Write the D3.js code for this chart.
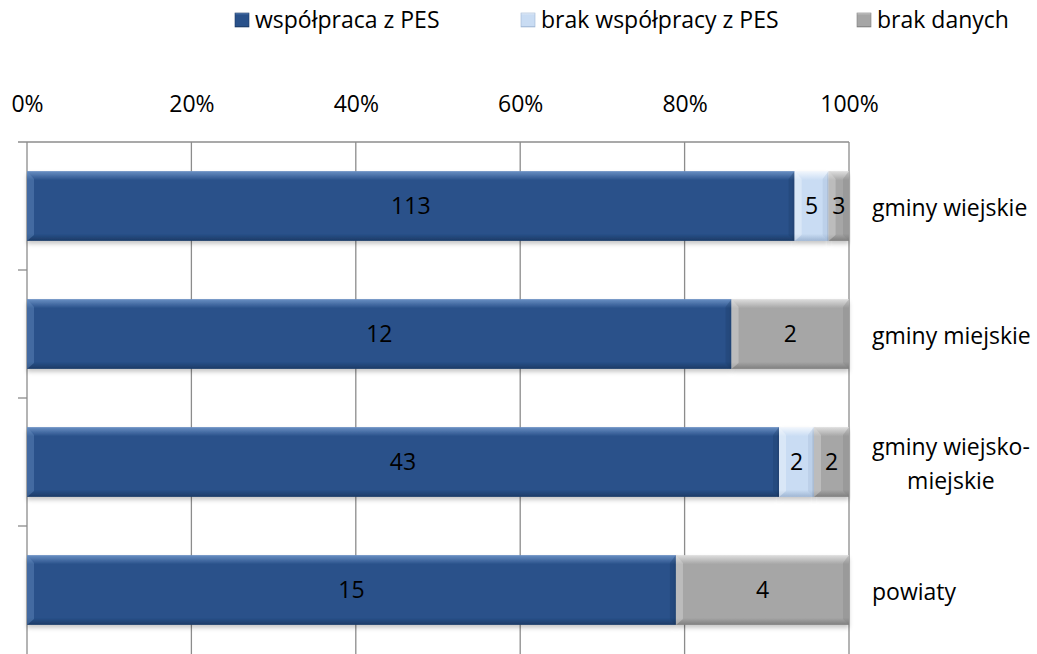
<!DOCTYPE html>
<html>
<head>
<meta charset="utf-8">
<script src="https://cdn.jsdelivr.net/npm/d3@7"></script>
<style>
  body { margin: 0; background: #fff; }
  text { font-family: "Open Sans", "Noto Sans", sans-serif; fill: #000; }
</style>
</head>
<body>
<div id="chart"></div>
<script>
var svgWidth = 1037;
var svgHeight = 654;

// data
var categories = ["gminy wiejskie", "gminy miejskie", "gminy wiejsko-miejskie", "powiaty"];
var categoryLines = [["gminy wiejskie"], ["gminy miejskie"], ["gminy wiejsko-", "miejskie"], ["powiaty"]];
var seriesNames = ["współpraca z PES", "brak współpracy z PES", "brak danych"];
var wspolpraca = [113, 12, 43, 15];
var brakWspolpracy = [5, 0, 2, 0];
var brakDanych = [3, 2, 2, 4];
var tickValues = [0, 0.2, 0.4, 0.6, 0.8, 1];

var colors = [
  { main: "#29518a", light: "#6a90c4", dark: "#1b3a66" },
  { main: "#c9dcf3", light: "#f2f7fd", dark: "#9fb6d3" },
  { main: "#a6a6a6", light: "#dedede", dark: "#7f7f7f" }
];

var fontSize = "23px";
var margin = { top: 142, right: 188, bottom: 0, left: 27 };
var width = svgWidth - margin.left - margin.right;
var height = 512;

var svg = d3.select("#chart")
  .append("svg")
  .attr("width", svgWidth)
  .attr("height", svgHeight);

var defs = svg.append("defs");
colors.forEach(function(c, i) {
  var g = defs.append("linearGradient")
    .attr("id", "grad" + i)
    .attr("x1", 0).attr("y1", 0).attr("x2", 0).attr("y2", 1);
  g.append("stop").attr("offset", "0%").attr("stop-color", c.light);
  g.append("stop").attr("offset", "13%").attr("stop-color", c.main);
  g.append("stop").attr("offset", "90%").attr("stop-color", c.main);
  g.append("stop").attr("offset", "100%").attr("stop-color", c.dark);
});
var shadow = defs.append("filter").attr("id", "shadow")
  .attr("x", "-5%").attr("y", "-10%").attr("width", "110%").attr("height", "140%");
shadow.append("feDropShadow")
  .attr("dx", 0).attr("dy", 3).attr("stdDeviation", 2)
  .attr("flood-color", "#000").attr("flood-opacity", 0.22);

var chartGroup = svg.append("g")
  .attr("transform", `translate(${margin.left}, ${margin.top})`);

// stack as percentages
var rows = categories.map(function(c, i) {
  var total = wspolpraca[i] + brakWspolpracy[i] + brakDanych[i];
  return {
    cat: c,
    vals: [wspolpraca[i], brakWspolpracy[i], brakDanych[i]],
    total: total
  };
});

var xScale = d3.scaleLinear().domain([0, 1]).range([0, width]);
var yScale = d3.scaleBand().domain(categories).range([0, height]).paddingInner(0.455).paddingOuter(0.2275);

// gridlines
chartGroup.append("g")
  .selectAll("line")
  .data(tickValues)
  .enter()
  .append("line")
  .attr("x1", d => xScale(d))
  .attr("x2", d => xScale(d))
  .attr("y1", 0)
  .attr("y2", height)
  .attr("stroke", "#8c8c8c")
  .attr("stroke-width", 1.3);

// top axis line
chartGroup.append("line")
  .attr("x1", -9).attr("x2", width)
  .attr("y1", 0).attr("y2", 0)
  .attr("stroke", "#8c8c8c").attr("stroke-width", 1.3);

// left category ticks
var bandStep = height / categories.length;
chartGroup.append("g")
  .selectAll("line")
  .data(d3.range(1, categories.length))
  .enter()
  .append("line")
  .attr("x1", -9).attr("x2", 0)
  .attr("y1", d => d * bandStep)
  .attr("y2", d => d * bandStep)
  .attr("stroke", "#8c8c8c").attr("stroke-width", 1.3);

// tick labels on top
var topAxis = d3.axisTop(xScale).tickValues(tickValues).tickFormat(d3.format(".0%")).tickSize(0);
var axisG = chartGroup.append("g")
  .attr("transform", "translate(0, -27)")
  .call(topAxis);
axisG.select(".domain").remove();
axisG.selectAll("text")
  .style("font-size", fontSize)
  .style("font-family", "'Open Sans', sans-serif")
  .attr("fill", "#000");

// bars
rows.forEach(function(row) {
  var cum = 0;
  var g = chartGroup.append("g");
  row.vals.forEach(function(v, j) {
    if (v === 0) return;
    var x0 = xScale(cum / row.total);
    var x1 = xScale((cum + v) / row.total);
    cum += v;
    var y = yScale(row.cat);
    var h = yScale.bandwidth();
    g.append("rect")
      .attr("x", x0)
      .attr("y", y)
      .attr("width", x1 - x0)
      .attr("height", h)
      .attr("fill", `url(#grad${j})`)
      .attr("filter", "url(#shadow)");
    // bevel sides
    g.append("polygon")
      .attr("points", `${x0},${y} ${x0 + 7},${y + 8} ${x0 + 7},${y + h - 6} ${x0},${y + h}`)
      .attr("fill", colors[j].light)
      .attr("opacity", 0.4);
    g.append("polygon")
      .attr("points", `${x1},${y} ${x1 - 6},${y + 8} ${x1 - 6},${y + h - 6} ${x1},${y + h}`)
      .attr("fill", colors[j].dark)
      .attr("opacity", 0.3);
    g.append("text")
      .attr("x", (x0 + x1) / 2)
      .attr("y", y + h / 2)
      .attr("dy", "0.36em")
      .attr("text-anchor", "middle")
      .style("font-size", fontSize)
      .text(v);
  });
});

// category labels on the right
categoryLines.forEach(function(lines, i) {
  var cy = yScale(categories[i]) + yScale.bandwidth() / 2;
  var t = chartGroup.append("text")
    .attr("x", width + 23)
    .attr("y", cy - (lines.length - 1) * 17 + 2)
    .style("font-size", fontSize);
  lines.forEach(function(l, k) {
    t.append("tspan")
      .attr("x", width + 23)
      .attr("dy", k === 0 ? "0.36em" : "1.48em")
      .text(l);
  });
  if (lines.length > 1) {
    // centre the lines relative to each other
    var bb = t.node().getBBox();
    var cx = bb.x + bb.width / 2;
    t.attr("text-anchor", "middle").selectAll("tspan").attr("x", cx);
  }
});

// legend
var legendX = [255, 541, 877];
var legend = svg.append("g");
seriesNames.forEach(function(name, i) {
  var lg = legend.append("g").attr("transform", `translate(${legendX[i]}, 20)`);
  lg.append("rect")
    .attr("x", -20).attr("y", -7)
    .attr("width", 14).attr("height", 14)
    .attr("fill", `url(#grad${i})`)
    .attr("stroke", colors[i].dark).attr("stroke-width", 0.6);
  lg.append("text")
    .attr("x", 0)
    .attr("y", 0)
    .attr("dy", "0.36em")
    .style("font-size", fontSize)
    .text(name);
});
</script>
</body>
</html>
